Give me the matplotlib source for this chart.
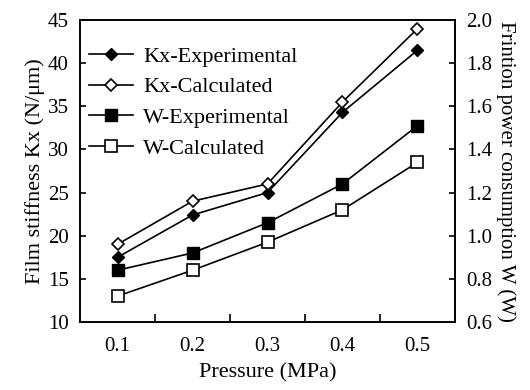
import matplotlib
matplotlib.use("Agg")
import matplotlib.pyplot as plt

pressure = ["0.1", "0.2", "0.3", "0.4", "0.5"]
kx_exp = [17.5, 22.4, 25.0, 34.3, 41.5]
kx_calc = [19.0, 24.0, 26.0, 35.5, 44.0]
w_exp = [0.84, 0.92, 1.06, 1.24, 1.51]
w_calc = [0.72, 0.84, 0.97, 1.12, 1.34]

plt.rcParams['font.family'] = ['Liberation Serif', 'DejaVu Serif']
plt.rcParams['font.size'] = 15

fig = plt.figure(figsize=(5.3, 3.9), dpi=100)
ax = fig.add_axes([80/530, 1-322/390, (455-80)/530, (322-20)/390])
ax2 = ax.twinx()

x = list(range(len(pressure)))
lw = 1.2
l1, = ax.plot(x, kx_exp, color='black', lw=lw, marker='D', ms=6, mfc='black', mec='black', label='Kx-Experimental')
l2, = ax.plot(x, kx_calc, color='black', lw=lw, marker='D', ms=6, mfc='white', mec='black', mew=1.2, label='Kx-Calculated')
l3, = ax2.plot(x, w_exp, color='black', lw=lw, marker='s', ms=9, mfc='black', mec='black', label='W-Experimental')
l4, = ax2.plot(x, w_calc, color='black', lw=lw, marker='s', ms=9, mfc='white', mec='black', mew=1.2, label='W-Calculated')

ax.set_xlim(-0.5, 4.5)
ax.set_ylim(10, 45)
ax.set_yticks(range(10, 46, 5))
ax2.set_ylim(0.6, 2.0)
ax2.set_yticks([0.6, 0.8, 1.0, 1.2, 1.4, 1.6, 1.8, 2.0])
ax2.set_yticklabels(["0.6", "0.8", "1.0", "1.2", "1.4", "1.6", "1.8", "2.0"])

ax.set_xticks(x)
ax.set_xticklabels(pressure)
ax.set_xticks([0.5, 1.5, 2.5, 3.5], minor=True)
ax.tick_params(axis='x', which='major', length=0, pad=11)
ax.tick_params(axis='x', which='minor', direction='in', length=6, width=1.2)
ax.tick_params(axis='y', direction='in', length=4, width=1.2, pad=8)
ax2.tick_params(axis='y', direction='in', length=4, width=1.2, pad=8)

for a in (ax, ax2):
    for s in a.spines.values():
        s.set_linewidth(1.2)

ax.set_xlabel('Pressure (MPa)', fontsize=16, labelpad=5)
ax.set_ylabel('Film stiffness Kx (N/\u03bcm)', fontsize=16, labelpad=2)
ax2.set_ylabel('Frintion power consumption W (W)', fontsize=15, rotation=270, labelpad=17)

ax.legend(handles=[l1, l2, l3, l4], loc='upper left', frameon=False,
          bbox_to_anchor=(-0.012, 0.957), handlelength=2.0, handletextpad=0.45,
          labelspacing=0.45, borderaxespad=0.2, fontsize=16)

fig.savefig('out.png', dpi=100)
